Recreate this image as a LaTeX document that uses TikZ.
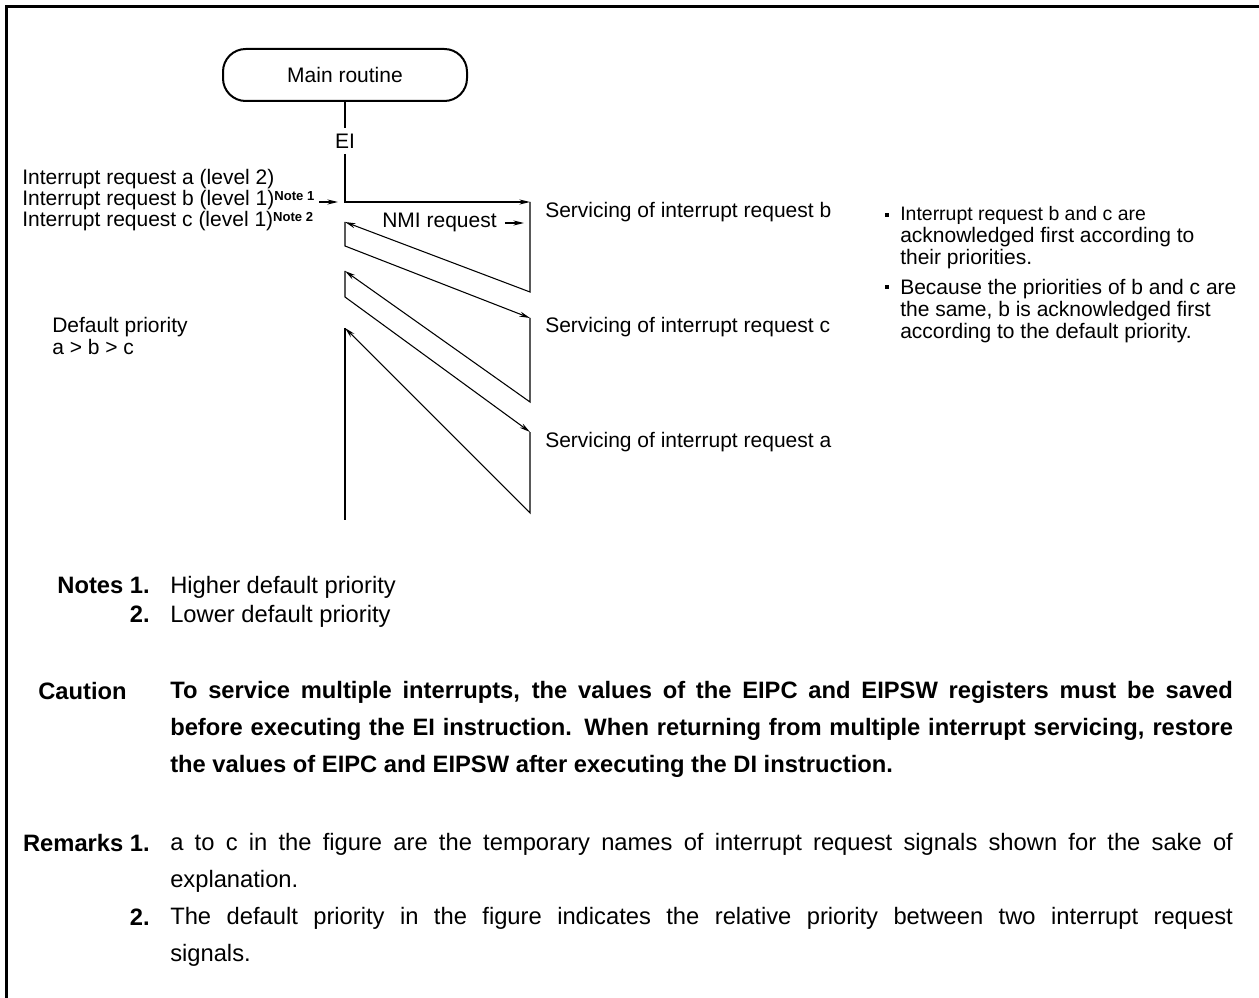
\documentclass[tikz,border=0pt]{standalone}
\usepackage{fontspec}
\setmainfont{Liberation Sans}
\usetikzlibrary{arrows.meta, positioning}

\newcommand\figfont{\fontsize{15.75pt}{18pt}\selectfont}
\newcommand\smallfig{\fontsize{14.6pt}{17pt}\selectfont}
\newcommand\bodyfont{\fontsize{17.8pt}{27.75pt}\selectfont\hyphenpenalty=10000\exhyphenpenalty=10000}
\newcommand\notemark[1]{\raisebox{4pt}{\fontsize{9.8pt}{9pt}\selectfont\bfseries #1}}

\tikzset{
  flow/.style={line width=0.8pt},
  routine/.style={draw, line width=1.5pt, rounded corners=17pt, minimum width=183pt, minimum height=39pt, font=\figfont},
  lbl/.style={anchor=base west, inner sep=0pt, font=\figfont},
  bodylbl/.style={anchor=base east, inner sep=0pt, font=\bodyfont\bfseries},
  bodytxt/.style={anchor=north west, inner sep=0pt, font=\bodyfont, text width=797pt, align=justify},
  sqbullet/.style={fill, inner sep=0pt, minimum size=3.6pt},
}

\begin{document}
\begin{tikzpicture}[x=0.75pt, y=-0.75pt, >={Stealth[length=8pt, width=3.8pt]}]
  \useasboundingbox (0,0) rectangle (1259,998);
  % frame
  \draw[line width=2.25pt] (6,998) -- (6,7) -- (1259,7);

  % main routine and EI
  \node[routine] (main) at (345,75) {Main routine};
  \node[font=\figfont, fill=white, inner xsep=1.5pt, inner ysep=4pt] (ei) at (345,141) {EI};

  % turning points of the flow
  \coordinate (b0) at (345,202);
  \coordinate (b1) at (530,202);
  \coordinate (b2) at (530,292);
  \coordinate (r1) at (345,222);
  \coordinate (r2) at (345,246);
  \coordinate (c1) at (530,318);
  \coordinate (c2) at (530,402);
  \coordinate (r3) at (345,271);
  \coordinate (r4) at (345,297);
  \coordinate (a1) at (530,432);
  \coordinate (a2) at (530,513);
  \coordinate (r5) at (345,328);
  \coordinate (r6) at (345,520);

  \draw[flow] (main) -- (ei);
  \draw[flow,->] (ei) -- (b0) -- (b1);
  \draw[flow,->] (b1) -- (b2) -- (r1);
  \draw[flow,->] (r1) -- (r2) -- (c1);
  \draw[flow,->] (c1) -- (c2) -- (r3);
  \draw[flow,->] (r3) -- (r4) -- (a1);
  \draw[flow,->] (a1) -- (a2) -- (r5);
  \draw[flow] (r5) -- (r6);

  % requests
  \node[lbl] (irqa) at (22,185) {Interrupt request a (level 2)};
  \node[lbl] (irqb) at (22,206) {Interrupt request b (level 1)\notemark{Note 1}};
  \node[lbl] (irqc) at (22,227) {Interrupt request c (level 1)\notemark{Note 2}};
  \coordinate (bin) at (319,202);
  \draw[flow,->,shorten >=5.25pt] (bin) -- (b0);

  \node[lbl] (nmi) at (382,228) {NMI request};
  \coordinate (nmiend) at (524,223);
  \draw[flow,->] ([xshift=6pt]nmi.east |- nmiend) -- (nmiend);

  % servicing
  \node[lbl] (srvb) at (545,218) {Servicing of interrupt request b};
  \node[lbl] (srvc) at (545,333) {Servicing of interrupt request c};
  \node[lbl] (srva) at (545,447) {Servicing of interrupt request a};

  \node[lbl] (prio) at (52,333) {Default priority};
  \node[lbl] (order) at (52,354) {a > b > c};

  % remarks beside the figure
  \node[sqbullet] (bul1) at (887,215) {};
  \node[lbl, font=\smallfig] (n1a) at (900,221) {Interrupt request b and c are};
  \node[lbl] (n1b) at (900,243) {acknowledged first according to};
  \node[lbl] (n1c) at (900,265) {their priorities.};
  \node[sqbullet] (bul2) at (887,287) {};
  \node[lbl] (n2a) at (900,295) {Because the priorities of b and c are};
  \node[lbl] (n2b) at (900,317) {the same, b is acknowledged first};
  \node[lbl] (n2c) at (900,339) {according to the default priority.};

  % notes
  \node[bodylbl] (notes1) at (150,593) {Notes 1.};
  \node[bodylbl] (notes2) at (150,622) {2.};
  \node[lbl, font=\bodyfont] (note1) at (170,593) {Higher default priority};
  \node[lbl, font=\bodyfont] (note2) at (170,622) {Lower default priority};

  % caution
  \node[bodylbl, anchor=base west] (caution) at (38,699) {Caution};
  \node[bodytxt, font=\bodyfont\bfseries] (cautxt) at (170,681) {To service multiple interrupts, the values of the EIPC and EIPSW registers must be saved\linebreak before executing the EI instruction. When returning from multiple interrupt servicing, restore\linebreak the values of EIPC and EIPSW after executing the DI instruction.};

  % remarks
  \node[bodylbl] (rem1) at (150,851) {Remarks 1.};
  \node[bodytxt] (remtxt1) at (170,833) {a to c in the figure are the temporary names of interrupt request signals shown for the sake of\linebreak explanation.};
  \node[bodylbl] (rem2) at (150,925) {2.};
  \node[bodytxt] (remtxt2) at (170,907) {The default priority in the figure indicates the relative priority between two interrupt request\linebreak signals.};
\end{tikzpicture}
\end{document}
